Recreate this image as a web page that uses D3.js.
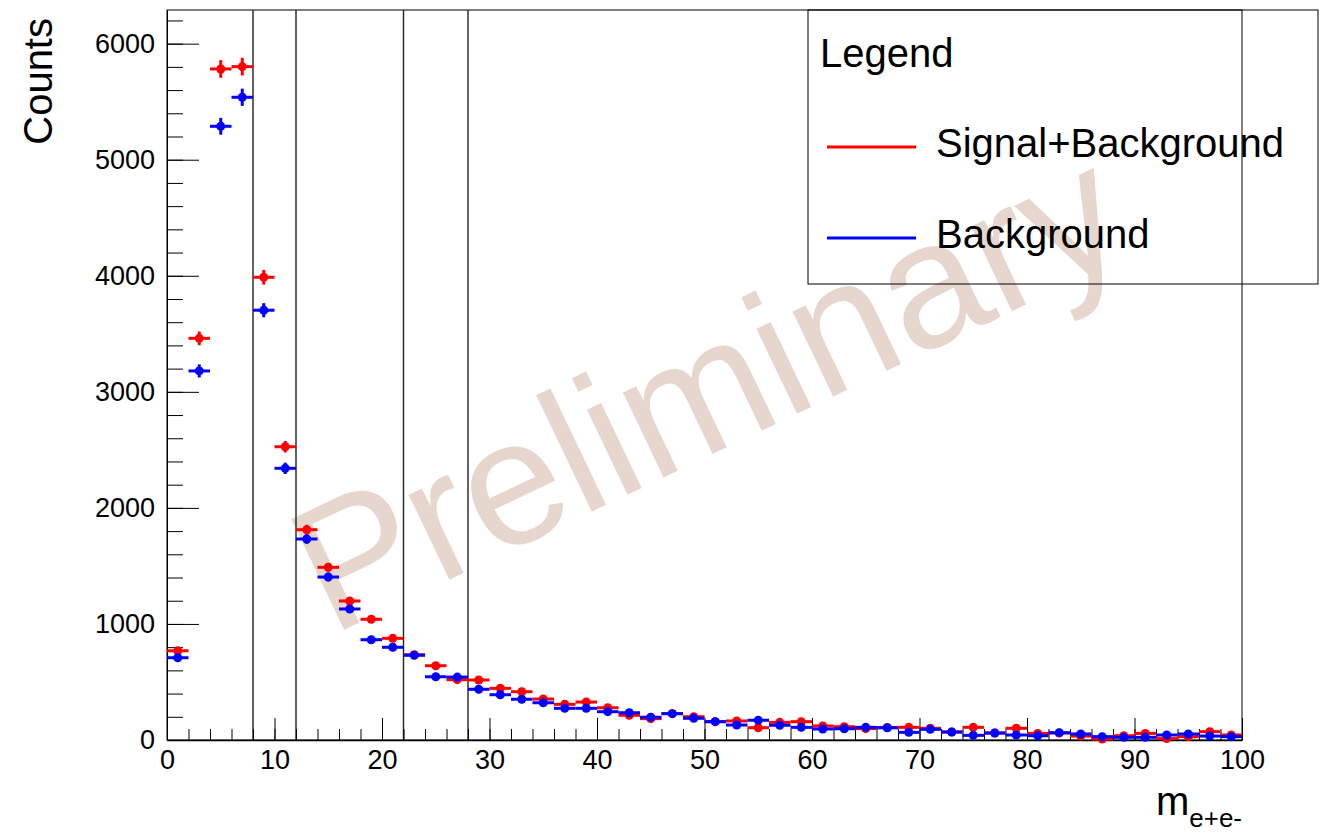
<!DOCTYPE html>
<html>
<head>
<meta charset="utf-8">
<script src="https://cdn.jsdelivr.net/npm/d3@7"></script>
<style>
  html, body { margin: 0; padding: 0; background: #fff; }
  svg { display: block; font-family: "Liberation Sans", Arial, Helvetica, sans-serif; }
</style>
</head>
<body>
<svg id="chart" width="1319" height="833"></svg>
<script>
// Invariant-mass histogram, 2-unit bins from 0 to 100
const binCenters = [1, 3, 5, 7, 9, 11, 13, 15, 17, 19, 21, 23, 25, 27, 29, 31, 33, 35, 37, 39,
  41, 43, 45, 47, 49, 51, 53, 55, 57, 59, 61, 63, 65, 67, 69, 71, 73, 75, 77, 79,
  81, 83, 85, 87, 89, 91, 93, 95, 97, 99];
const binWidth = 2;

const signalPlusBackground = [769, 3461, 5782, 5802, 3987, 2527, 1812, 1488, 1198, 1040,
  876, 735, 640, 520, 517, 445, 416, 353, 307, 327,
  278, 213, 184, 227, 201, 158, 164, 106, 152, 158,
  121, 115, 98, 108, 109, 101, 69, 109, 60, 101,
  57, 60, 34, 8, 37, 57, 12, 29, 72, 43];

const background = [709, 3180, 5288, 5538, 3703, 2341, 1732, 1404, 1129, 864,
  799, 730, 545, 542, 437, 390, 351, 321, 273, 273,
  244, 235, 196, 227, 187, 158, 129, 170, 127, 109,
  95, 97, 109, 105, 66, 92, 69, 40, 60, 43,
  37, 63, 52, 29, 23, 23, 43, 52, 34, 29];

const cutPositions = [8, 12, 22, 28];
const xMajorTicks = [0, 10, 20, 30, 40, 50, 60, 70, 80, 90, 100];
const yMajorTicks = [0, 1000, 2000, 3000, 4000, 5000, 6000];
const xDomain = [0, 100];
const yDomain = [0, 6290];

const legendTitle = "Legend";
const seriesNames = ["Signal+Background", "Background"];
const seriesColors = ["#ff0000", "#0000ff"];
const watermarkText = "Preliminary";

const svg = d3.select("#chart");
const frame = { left: 167, right: 1242, top: 10, bottom: 740 };

const x = d3.scaleLinear().domain(xDomain).range([frame.left, frame.right]);
const y = d3.scaleLinear().domain(yDomain).range([frame.bottom, frame.top]);

svg.append("rect").attr("width", 1319).attr("height", 833).attr("fill", "#fff");

// Watermark sits underneath everything else
svg.append("text")
  .attr("transform", "translate(331,636) rotate(-25.5)")
  .attr("font-size", 178)
  .attr("fill", "#e6d6ce")
  .text(watermarkText);

// Frame
svg.append("rect")
  .attr("x", frame.left).attr("y", frame.top)
  .attr("width", frame.right - frame.left).attr("height", frame.bottom - frame.top)
  .attr("fill", "none").attr("stroke", "#000").attr("stroke-width", 1);

// Cut lines
svg.append("g").selectAll("line").data(cutPositions).join("line")
  .attr("x1", d => x(d)).attr("x2", d => x(d))
  .attr("y1", frame.top).attr("y2", frame.bottom)
  .attr("stroke", "#222").attr("stroke-width", 1.4);

// Axes (ticks point into the frame)
const xMinor = d3.range(xDomain[0], xDomain[1] + 0.001, 2);
const yMinor = d3.range(0, yDomain[1], 200);

svg.append("g")
  .attr("transform", `translate(0,${frame.bottom})`)
  .call(d3.axisBottom(x).tickValues(xMinor).tickSize(-11).tickFormat(""))
  .call(g => g.select(".domain").remove());
svg.append("g")
  .attr("transform", `translate(0,${frame.bottom})`)
  .call(d3.axisBottom(x).tickValues(xMajorTicks).tickSize(-22).tickSizeOuter(0).tickPadding(10).tickFormat(d3.format("d")))
  .call(g => g.select(".domain").attr("stroke-width", 1.6))
  .call(g => g.selectAll("text").attr("font-size", 27).attr("fill", "#000").attr("font-family", "Liberation Sans, Arial, sans-serif"));

svg.append("g")
  .attr("transform", `translate(${frame.left},0)`)
  .call(d3.axisLeft(y).tickValues(yMinor).tickSize(-16).tickFormat(""))
  .call(g => g.select(".domain").remove());
svg.append("g")
  .attr("transform", `translate(${frame.left},0)`)
  .call(d3.axisLeft(y).tickValues(yMajorTicks).tickSize(-32).tickSizeOuter(0).tickPadding(12).tickFormat(d3.format("d")))
  .call(g => g.selectAll("text").attr("font-size", 27).attr("fill", "#000").attr("font-family", "Liberation Sans, Arial, sans-serif"));

svg.selectAll(".tick line").attr("stroke", "#000");

// Axis titles
svg.append("text")
  .attr("transform", "translate(52,18) rotate(-90)")
  .attr("text-anchor", "end")
  .attr("font-size", 40)
  .text("Counts");

const xTitle = svg.append("text")
  .attr("x", 1242).attr("y", 815)
  .attr("text-anchor", "end")
  .attr("font-size", 40);
xTitle.append("tspan").text("m");
xTitle.append("tspan").attr("font-size", 26).attr("dy", 12).text("e+e-");

// Data points with Poisson errors
const seriesValues = [signalPlusBackground, background];
seriesValues.forEach((vals, si) => {
  const color = seriesColors[si];
  const g = svg.append("g");
  const pts = binCenters.map((c, i) => ({ c, v: vals[i], e: Math.sqrt(vals[i]) }));
  g.selectAll("line.h").data(pts).join("line")
    .attr("x1", d => x(d.c - binWidth / 2)).attr("x2", d => x(d.c + binWidth / 2))
    .attr("y1", d => y(d.v)).attr("y2", d => y(d.v))
    .attr("stroke", color).attr("stroke-width", 3);
  g.selectAll("line.v").data(pts).join("line")
    .attr("x1", d => x(d.c)).attr("x2", d => x(d.c))
    .attr("y1", d => y(Math.max(0, d.v - d.e))).attr("y2", d => y(d.v + d.e))
    .attr("stroke", color).attr("stroke-width", 3);
  g.selectAll("circle").data(pts).join("circle")
    .attr("cx", d => x(d.c)).attr("cy", d => y(d.v)).attr("r", 4.5)
    .attr("fill", color);
});

// Legend
const legend = svg.append("g");
legend.append("rect")
  .attr("x", 808).attr("y", 10).attr("width", 510).attr("height", 274)
  .attr("fill", "none").attr("stroke", "#000").attr("stroke-width", 1);
legend.append("text").attr("x", 820).attr("y", 67).attr("font-size", 40).text(legendTitle);
const legendRows = [147, 238];
seriesNames.forEach((name, i) => {
  legend.append("line")
    .attr("x1", 827).attr("x2", 916).attr("y1", legendRows[i]).attr("y2", legendRows[i])
    .attr("stroke", seriesColors[i]).attr("stroke-width", 3);
  legend.append("text").attr("x", 936).attr("y", legendRows[i] + 10)
    .attr("font-size", 40).text(name);
});
</script>
</body>
</html>
